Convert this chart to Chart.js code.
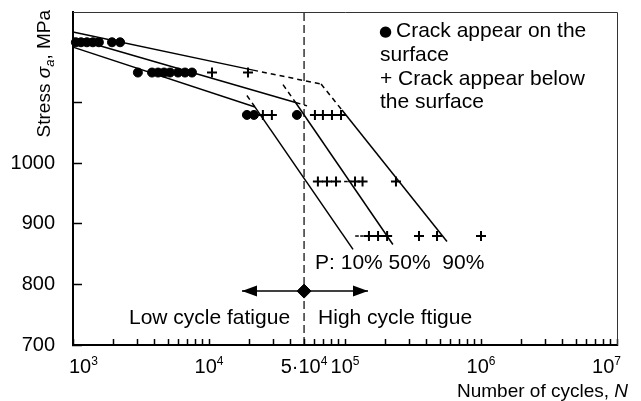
<!DOCTYPE html>
<html><head><meta charset="utf-8">
<script src="https://cdn.jsdelivr.net/npm/chart.js@4/dist/chart.umd.min.js"></script>
<style>html,body{margin:0;padding:0;background:#fff}canvas{display:block}</style>
</head><body>
<canvas id="c" width="641" height="401"></canvas>
<script>
// ---- data (N = number of cycles, S = stress amplitude, MPa) ----
const surfaceN = [1050, 1145, 1265, 1400, 1550, 1935, 2220,
                  3000, 3810, 4220, 4670, 5170, 5920, 6660, 7500,
                  19000, 21400, 44300];
const surfaceS = [1200, 1200, 1200, 1200, 1200, 1200, 1200,
                  1150, 1150, 1150, 1150, 1150, 1150, 1150, 1150,
                  1080, 1080, 1080];
const belowN = [10520, 19350,
                24900, 29000, 60100, 68800, 80200, 93500,
                63200, 73700, 85900, 118500, 134600, 237000,
                150000, 175000, 204000, 350000, 475000, 1000000];
const belowS = [1150, 1150,
                1080, 1080, 1080, 1080, 1080, 1080,
                970, 970, 970, 970, 970, 970,
                880, 880, 880, 880, 880, 880];
const tickMarkN = [101600, 108900, 122500, 133300];
const tickMarkS = [970, 970, 880, 880];

// P-S-N lines (solid and dashed parts)
const p10FlatN = [1000, 21800],   p10FlatS = [1192, 1093];
const p10SteepN = [21800, 114500], p10SteepS = [1093, 858];
const p10SteepDashN = [19000, 21800], p10SteepDashS = [1112, 1093];

const p50FlatN = [1000, 43300],   p50FlatS = [1207, 1100.6];
const p50FlatDashN = [43300, 52600], p50FlatDashS = [1100.6, 1095];
const p50SteepDashN = [35000, 43300], p50SteepDashS = [1130, 1100.6];
const p50SteepN = [43300, 225000], p50SteepS = [1100.6, 866];

const p90FlatN = [1000, 21100],   p90FlatS = [1217, 1154];
const p90FlatDashN = [21100, 66700], p90FlatDashS = [1154, 1131];
const p90SteepDashN = [66700, 95000], p90SteepDashS = [1131, 1088];
const p90SteepN = [95000, 562000], p90SteepS = [1088, 871];

const transitionN = 50000;
const stressRange = [700, 1250];
const arrowN = [17480, 147600];
const arrowS = 789;

// ticks
const xTickValues = [];
for (let e = 3; e <= 6; e++) for (let s = 1; s <= 9; s++) xTickValues.push(s * Math.pow(10, e));
xTickValues.push(1e7);
const xLabelValues = [1e3, 1e4, 5e4, 1e5, 1e6, 1e7];
const xLabelBase = ['10', '10', '5·10', '10', '10', '10'];
const xLabelExp = ['3', '4', '4', '5', '6', '7'];
const yTickValues = [700, 800, 900, 1000, 1100, 1200];
const yLabelValues = [700, 800, 900, 1000];

// ---- chart ----
const FONT = '"Liberation Sans", Arial, Helvetica, sans-serif';
const pts = (ns, ss) => ns.map((n, i) => ({x: n, y: Array.isArray(ss) ? ss[i] : ss}));
function lineDS(ns, ss, dashed, width) {
  return {data: pts(ns, ss), showLine: true, pointRadius: 0, borderColor: '#000',
          borderWidth: width || 1.5, borderDash: dashed ? [5, 4] : [], clip: false};
}

const datasets = [
  {data: pts(surfaceN, surfaceS), pointStyle: 'circle', pointRadius: 4.5, borderWidth: 1,
   backgroundColor: '#000', borderColor: '#000', clip: false},
  {data: pts(belowN, belowS), pointStyle: 'cross', pointRadius: 5, borderWidth: 2,
   borderColor: '#000', clip: false},
  {data: pts(tickMarkN, tickMarkS), pointStyle: 'line', pointRadius: 1.8, borderWidth: 1.5,
   borderColor: '#000', clip: false},
  {data: pts([transitionN], [arrowS]), pointStyle: 'rectRot', pointRadius: 7, borderWidth: 1,
   backgroundColor: '#000', borderColor: '#000', clip: false},
  lineDS(arrowN, [arrowS, arrowS], false, 1.5),
  lineDS(p10FlatN, p10FlatS), lineDS(p10SteepN, p10SteepS), lineDS(p10SteepDashN, p10SteepDashS, true),
  lineDS(p50FlatN, p50FlatS), lineDS(p50SteepN, p50SteepS), lineDS(p50FlatDashN, p50FlatDashS, true),
  lineDS(p50SteepDashN, p50SteepDashS, true),
  lineDS(p90FlatN, p90FlatS), lineDS(p90SteepN, p90SteepS), lineDS(p90FlatDashN, p90FlatDashS, true),
  lineDS(p90SteepDashN, p90SteepDashS, true),
  Object.assign(lineDS([transitionN, transitionN], stressRange, false, 1.2), {borderDash: [8, 4]})
];

function drawRich(ctx, parts, x, y) {
  let cx = x;
  parts.forEach(p => { ctx.font = p[1]; ctx.fillText(p[0], cx, y + (p[2] || 0)); cx += ctx.measureText(p[0]).width; });
}
function richWidth(ctx, parts) {
  let w = 0;
  parts.forEach(p => { ctx.font = p[1]; w += ctx.measureText(p[0]).width; });
  return w;
}

const annot = {
  id: 'annot',
  afterDraw(chart) {
    const {ctx, chartArea: ca, scales: {x, y}} = chart;
    ctx.save();
    // frame top/right
    ctx.strokeStyle = '#333'; ctx.lineWidth = 1;
    ctx.beginPath();
    ctx.moveTo(ca.left, ca.top + 0.5); ctx.lineTo(ca.right + 0.5, ca.top + 0.5); ctx.lineTo(ca.right + 0.5, ca.bottom);
    ctx.stroke();

    ctx.fillStyle = '#000'; ctx.textBaseline = 'alphabetic'; ctx.textAlign = 'left';
    // x tick labels with superscripts
    xLabelValues.forEach((v, i) => {
      const parts = [[xLabelBase[i], '20px ' + FONT, 0], [xLabelExp[i], '12px ' + FONT, -8]];
      const w = richWidth(ctx, parts);
      let left = x.getPixelForValue(v) - w / 2;
      left = Math.max(left, ca.left - 4); left = Math.min(left, ca.right + 4 - w);
      drawRich(ctx, parts, left, ca.bottom + 28);
    });

    // x axis title
    const xt = [['Number of cycles, ', '19px ' + FONT, 0], ['N', 'italic 19px ' + FONT, 0]];
    drawRich(ctx, xt, ca.right + 11 - richWidth(ctx, xt), 397);

    // y axis title (rotated)
    const yt = [['Stress ', '19px ' + FONT, 0], ['σ', 'italic 19px ' + FONT, 0], ['a', 'italic 13px ' + FONT, 4], [', MPa', '19px ' + FONT, 0]];
    ctx.save();
    ctx.translate(50, ca.top - 2); ctx.rotate(-Math.PI / 2);
    drawRich(ctx, yt, -richWidth(ctx, yt), 0);
    ctx.restore();

    // legend text
    const lx = ca.right - 237;
    ctx.font = '15px "DejaVu Sans", sans-serif'; ctx.fillText('●', lx - 1, ca.top + 24);
    ctx.font = '21px ' + FONT;
    ctx.fillText('Crack appear on the', lx + 16, ca.top + 25);
    ctx.fillText('surface', lx, ca.top + 49);
    ctx.fillText('+ Crack appear below', lx, ca.top + 73);
    ctx.fillText('the surface', lx, ca.top + 96);

    // annotations
    const ty = y.getPixelForValue(734.5);
    ctx.textAlign = 'right';
    ctx.fillText('Low cycle fatigue', x.getPixelForValue(transitionN) - 14, ty);
    ctx.textAlign = 'left';
    ctx.fillText('High cycle ftigue', x.getPixelForValue(transitionN) + 14, ty);
    ctx.fillText('P: 10% 50%  90%', x.getPixelForValue(transitionN) + 11, y.getPixelForValue(825));

    // arrow heads
    const ay = y.getPixelForValue(arrowS);
    const xl = x.getPixelForValue(arrowN[0]), xr = x.getPixelForValue(arrowN[1]);
    ctx.beginPath();
    ctx.moveTo(xl, ay); ctx.lineTo(xl + 15, ay - 5.5); ctx.lineTo(xl + 15, ay + 5.5); ctx.closePath();
    ctx.moveTo(xr, ay); ctx.lineTo(xr - 15, ay - 5.5); ctx.lineTo(xr - 15, ay + 5.5); ctx.closePath();
    ctx.fill();
    ctx.restore();
  }
};

new Chart(document.getElementById('c').getContext('2d'), {
  type: 'scatter',
  data: {datasets},
  options: {
    responsive: false, animation: false, devicePixelRatio: 1,
    layout: {padding: {left: 0, right: 24, top: 12, bottom: 0}},
    plugins: {legend: {display: false}, tooltip: {enabled: false}},
    scales: {
      x: {
        type: 'logarithmic', position: 'bottom', min: 1000, max: 1e7,
        afterBuildTicks: s => { s.ticks = xTickValues.map(v => ({value: v})); },
        afterFit: s => { s.height = 56; s.paddingLeft = 0; s.paddingRight = 0; },
        ticks: {display: false},
        grid: {drawOnChartArea: false, drawTicks: true, tickLength: -6, color: '#000', tickColor: '#000', tickWidth: 1.5},
        border: {display: true, color: '#000', width: 2}
      },
      y: {
        min: stressRange[0], max: stressRange[1], bounds: 'data',
        afterBuildTicks: s => { s.ticks = yTickValues.map(v => ({value: v})); },
        afterFit: s => { s.width = 73; s.paddingTop = 0; s.paddingBottom = 0; },
        ticks: {
          callback: v => (yLabelValues.includes(v) ? String(v) : ''),
          font: {family: FONT, size: 20}, color: '#000', padding: 27
        },
        grid: {drawOnChartArea: false, drawTicks: true, tickLength: -9, color: '#000', tickColor: '#000', tickWidth: 1.5},
        border: {display: true, color: '#000', width: 2}
      }
    }
  },
  plugins: [annot]
});
</script>
</body></html>
